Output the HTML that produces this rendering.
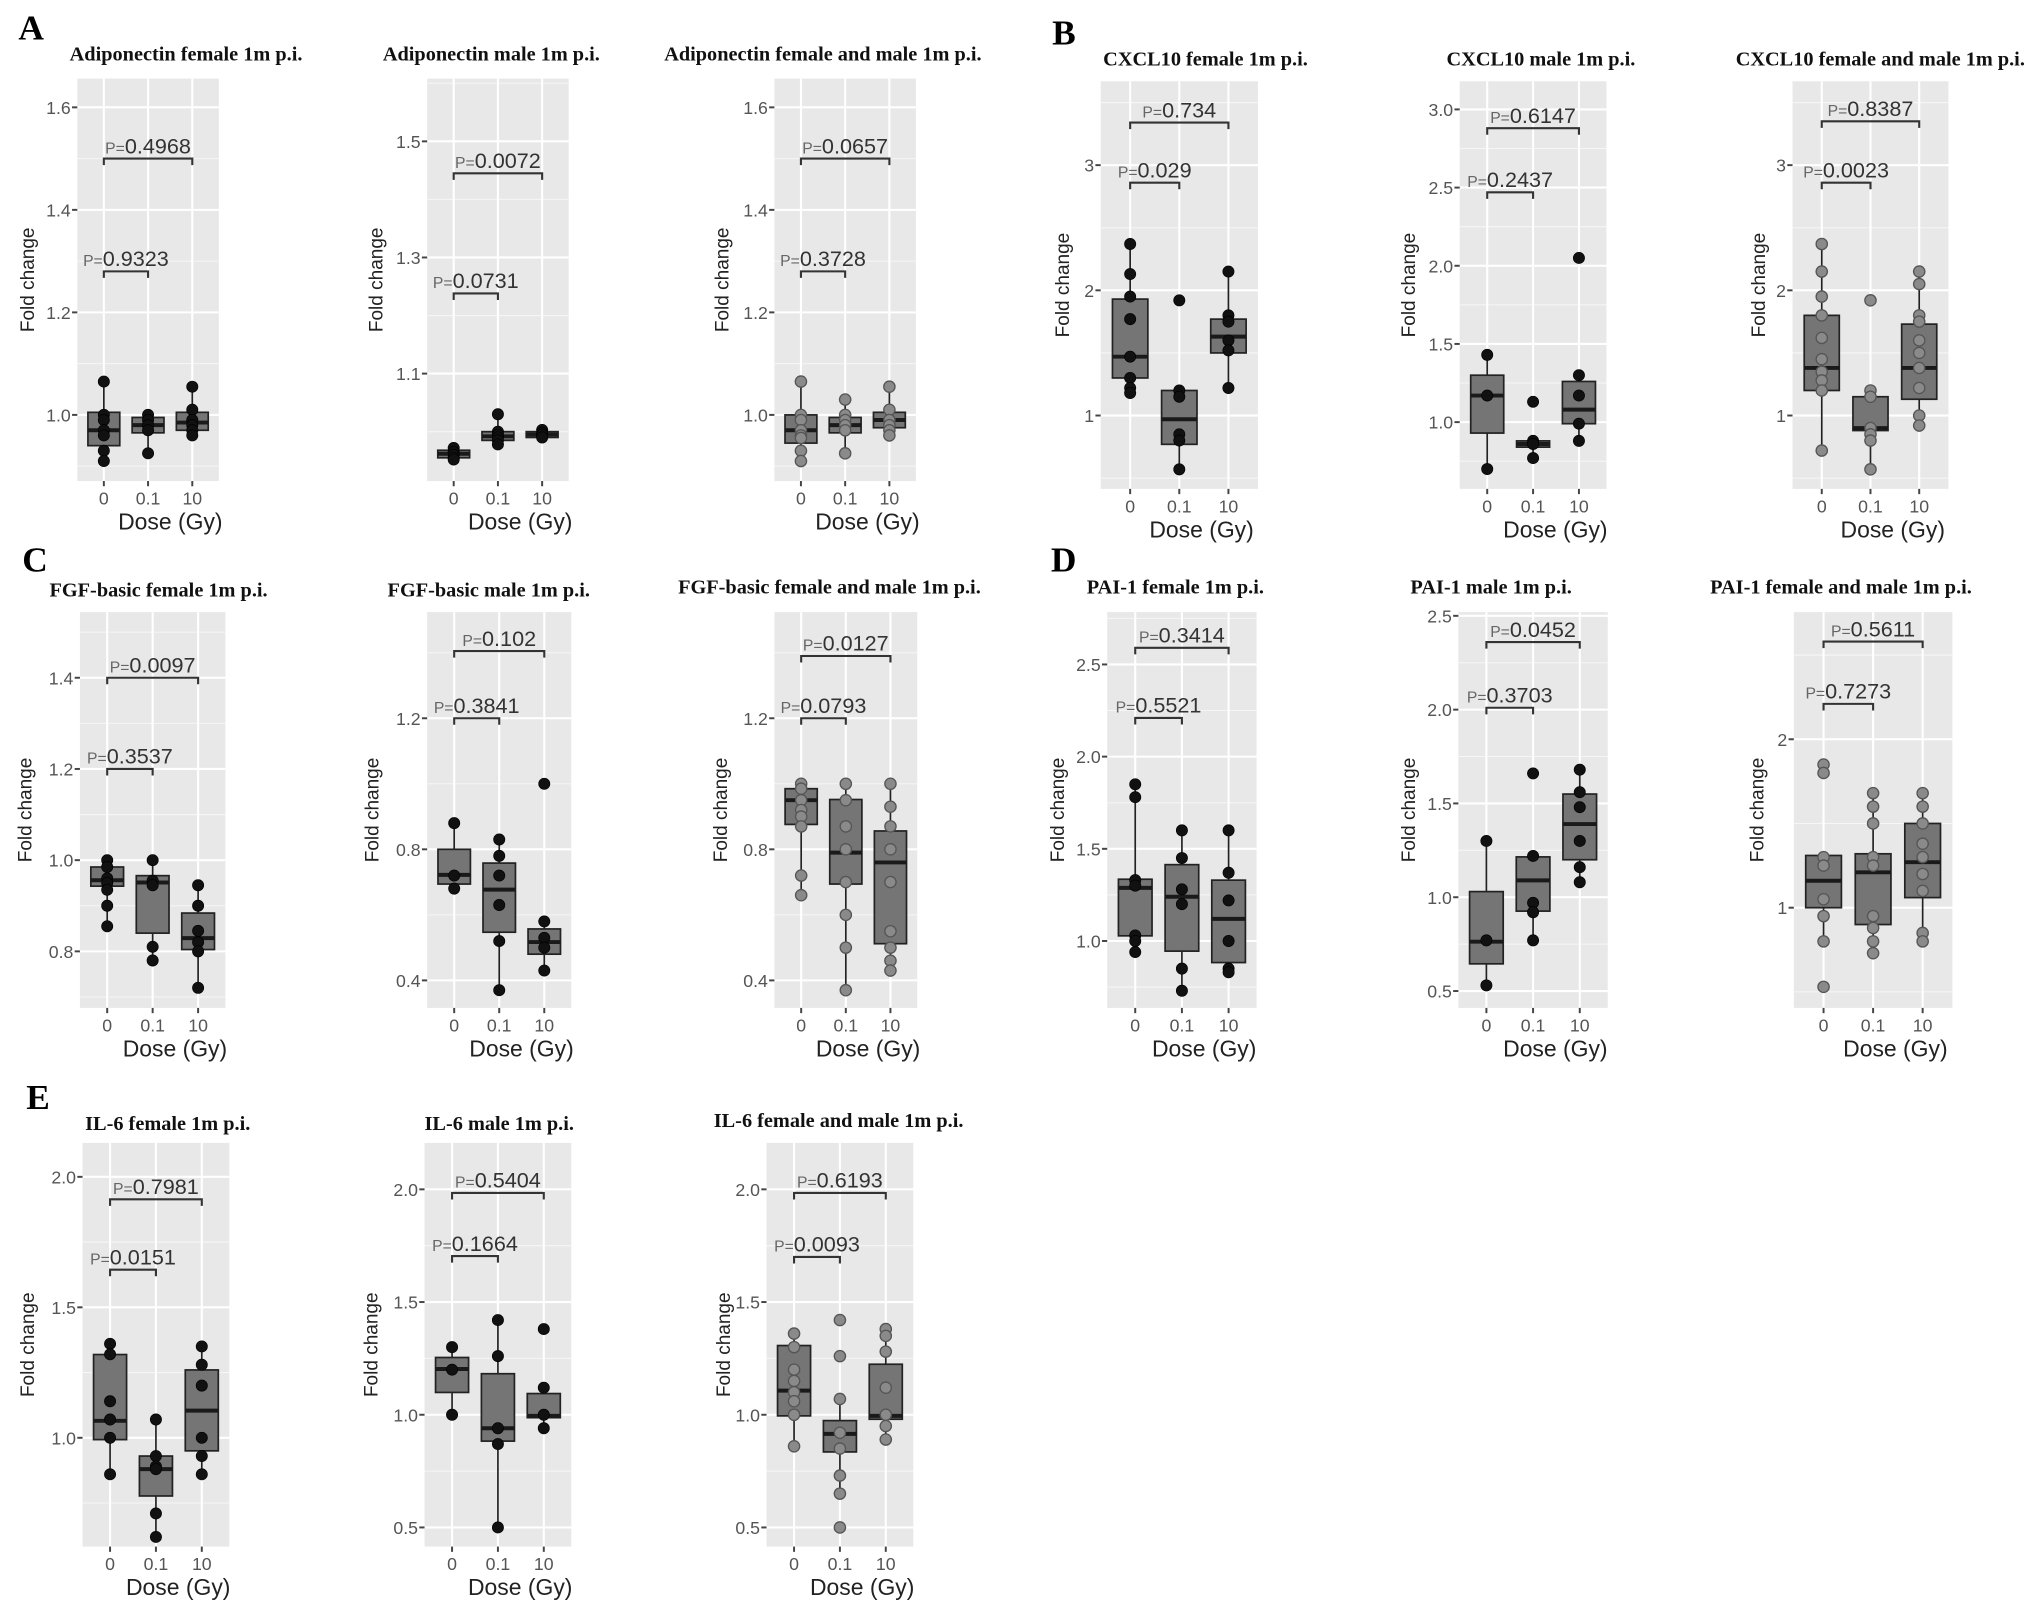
<!DOCTYPE html>
<html><head><meta charset="utf-8"><style>
html,body{margin:0;padding:0;background:#fff;}
svg{display:block;}
.ttl{font-family:"Liberation Serif",serif;font-weight:bold;font-size:15.5px;fill:#111;}
.tk{font-family:"Liberation Sans",sans-serif;font-size:13.5px;fill:#555;}
.yl{font-family:"Liberation Sans",sans-serif;font-size:14.5px;fill:#222;}
.xl{font-family:"Liberation Sans",sans-serif;font-size:17.5px;fill:#222;}
.pv{font-family:"Liberation Sans",sans-serif;font-size:16.5px;fill:#333;}
.let{font-family:"Liberation Serif",serif;font-weight:bold;font-size:27px;fill:#000;}
</style></head><body>
<svg id="fig" width="2031" height="1620" viewBox="0 0 1550 1236" preserveAspectRatio="none" xmlns="http://www.w3.org/2000/svg">
<text class="let" x="14" y="30">A</text>
<text class="let" x="803" y="34">B</text>
<text class="let" x="17" y="436">C</text>
<text class="let" x="802" y="436">D</text>
<text class="let" x="20" y="846">E</text>
</svg>
<script>
const categories = ['0','0.1','10'];
// boxes: [whiskerLow, q1, median, q3, whiskerHigh]
const a1Boxes = [[0.91,0.94,0.97,1.005,1.065],[0.925,0.965,0.98,0.995,1.0],[0.96,0.97,0.985,1.005,1.055]];
const a1Points = [[1.065,1.0,0.99,0.97,0.96,0.93,0.91],[1.0,0.99,0.98,0.97,0.925],[1.055,1.01,0.99,0.98,0.97,0.96]];
const a1Ticks = [1.0,1.2,1.4,1.6];
const a1P = [['0.9323',1.28,0,1],['0.4968',1.5,0,2]];

const a2Boxes = [[0.952,0.955,0.962,0.968,0.972],[0.975,0.985,0.992,1.0,1.03],[0.988,0.99,0.995,1.0,1.003]];
const a2Points = [[0.972,0.965,0.96,0.955,0.952],[1.03,1.0,0.995,0.99,0.985,0.978],[1.003,0.998,0.995,0.99]];
const a2Ticks = [1.1,1.3,1.5];
const a2P = [['0.0731',1.238,0,1],['0.0072',1.445,0,2]];

const a3Boxes = [[0.91,0.945,0.97,1.0,1.065],[0.925,0.965,0.98,0.995,1.03],[0.96,0.975,0.99,1.005,1.055]];
const a3Points = [[1.065,1.0,0.99,0.97,0.96,0.955,0.93,0.91],[1.03,1.0,0.99,0.98,0.97,0.925],[1.055,1.01,0.99,0.98,0.97,0.96]];
const a3Ticks = [1.0,1.2,1.4,1.6];
const a3P = [['0.3728',1.28,0,1],['0.0657',1.5,0,2]];

const b1Boxes = [[1.18,1.3,1.47,1.93,2.37],[0.57,0.77,0.97,1.2,1.2],[1.22,1.5,1.63,1.77,2.15]];
const b1Points = [[2.37,2.13,1.95,1.77,1.47,1.3,1.22,1.18],[1.92,1.2,1.15,0.85,0.8,0.57],[2.15,1.8,1.75,1.6,1.52,1.22]];
const b1Ticks = [1,2,3];
const b1P = [['0.029',2.86,0,1],['0.734',3.34,0,2]];

const b2Boxes = [[0.7,0.93,1.17,1.3,1.43],[0.77,0.84,0.86,0.88,0.9],[0.88,0.99,1.08,1.26,1.3]];
const b2Points = [[1.43,1.17,0.7],[1.13,0.88,0.86,0.77],[2.05,1.3,1.17,0.99,0.88]];
const b2Ticks = [1.0,1.5,2.0,2.5,3.0];
const b2P = [['0.2437',2.47,0,1],['0.6147',2.88,0,2]];

const b3Boxes = [[0.72,1.2,1.38,1.8,2.37],[0.57,0.88,0.9,1.15,1.2],[0.92,1.13,1.38,1.73,2.15]];
const b3Points = [[2.37,2.15,1.95,1.8,1.62,1.45,1.35,1.28,1.2,0.72],[1.92,1.2,1.15,0.9,0.85,0.8,0.57],[2.15,2.05,1.8,1.75,1.6,1.5,1.38,1.22,1.0,0.92]];
const b3Ticks = [1,2,3];
const b3P = [['0.0023',2.86,0,1],['0.8387',3.35,0,2]];

const c1Boxes = [[0.855,0.943,0.956,0.985,1.0],[0.78,0.84,0.951,0.966,1.0],[0.72,0.804,0.829,0.884,0.945]];
const c1Points = [[1.0,0.985,0.96,0.95,0.935,0.9,0.855],[1.0,0.955,0.945,0.81,0.78],[0.945,0.9,0.845,0.82,0.8,0.72]];
const c1Ticks = [0.8,1.0,1.2,1.4];
const c1P = [['0.3537',1.2,0,1],['0.0097',1.4,0,2]];

const c2Boxes = [[0.68,0.694,0.722,0.8,0.88],[0.37,0.547,0.677,0.758,0.83],[0.43,0.48,0.517,0.557,0.58]];
const c2Points = [[0.88,0.72,0.68],[0.83,0.78,0.72,0.63,0.52,0.37],[1.0,0.58,0.53,0.5,0.43]];
const c2Ticks = [0.4,0.8,1.2];
const c2P = [['0.3841',1.2,0,1],['0.102',1.405,0,2]];

const c3Boxes = [[0.66,0.876,0.95,0.985,1.0],[0.37,0.694,0.79,0.952,1.0],[0.43,0.512,0.76,0.856,1.0]];
const c3Points = [[1.0,0.985,0.95,0.92,0.9,0.87,0.72,0.66],[1.0,0.95,0.87,0.8,0.7,0.6,0.5,0.37],[1.0,0.93,0.87,0.8,0.7,0.55,0.5,0.46,0.43]];
const c3Ticks = [0.4,0.8,1.2];
const c3P = [['0.0793',1.2,0,1],['0.0127',1.39,0,2]];

const d1Boxes = [[0.94,1.028,1.288,1.335,1.85],[0.73,0.945,1.24,1.414,1.6],[0.83,0.883,1.12,1.33,1.6]];
const d1Points = [[1.85,1.78,1.33,1.3,1.03,1.0,0.94],[1.6,1.45,1.28,1.2,0.85,0.73],[1.6,1.37,1.22,1.0,0.85,0.83]];
const d1Ticks = [1.0,1.5,2.0,2.5];
const d1P = [['0.5521',2.21,0,1],['0.3414',2.59,0,2]];

const d2Boxes = [[0.53,0.645,0.763,1.03,1.3],[0.77,0.926,1.09,1.215,1.22],[1.08,1.2,1.39,1.55,1.68]];
const d2Points = [[1.3,0.77,0.53],[1.66,1.22,0.97,0.92,0.77],[1.68,1.56,1.48,1.3,1.16,1.08]];
const d2Ticks = [0.5,1.0,1.5,2.0,2.5];
const d2P = [['0.3703',2.01,0,1],['0.0452',2.36,0,2]];

const d3Boxes = [[0.8,1.0,1.16,1.31,1.31],[0.73,0.9,1.21,1.32,1.68],[0.8,1.06,1.27,1.5,1.68]];
const d3Points = [[1.85,1.8,1.3,1.25,1.05,0.95,0.8,0.53],[1.68,1.6,1.5,1.3,1.25,0.95,0.88,0.8,0.73],[1.68,1.6,1.5,1.38,1.3,1.2,1.1,0.85,0.8]];
const d3Ticks = [1,2];
const d3P = [['0.7273',2.21,0,1],['0.5611',2.58,0,2]];

const e1Boxes = [[0.86,0.993,1.065,1.319,1.36],[0.62,0.777,0.88,0.93,1.07],[0.86,0.95,1.104,1.26,1.35]];
const e1Points = [[1.36,1.32,1.14,1.07,1.0,0.86],[1.07,0.93,0.89,0.88,0.71,0.62],[1.35,1.28,1.2,1.0,0.93,0.86]];
const e1Ticks = [1.0,1.5,2.0];
const e1P = [['0.0151',1.644,0,1],['0.7981',1.914,0,2]];

const e2Boxes = [[1.0,1.099,1.203,1.254,1.3],[0.5,0.883,0.94,1.182,1.42],[0.94,0.987,0.995,1.094,1.12]];
const e2Points = [[1.3,1.2,1.0],[1.42,1.26,0.94,0.87,0.5],[1.38,1.12,1.0,0.94]];
const e2Ticks = [0.5,1.0,1.5,2.0];
const e2P = [['0.1664',1.704,0,1],['0.5404',1.984,0,2]];

const e3Boxes = [[0.86,0.995,1.107,1.307,1.36],[0.65,0.835,0.915,0.974,1.07],[0.89,0.98,0.995,1.224,1.38]];
const e3Points = [[1.36,1.3,1.2,1.15,1.1,1.06,1.0,0.86],[1.42,1.26,1.07,0.92,0.85,0.73,0.65,0.5],[1.38,1.35,1.28,1.12,1.0,0.95,0.89]];
const e3Ticks = [0.5,1.0,1.5,2.0];
const e3P = [['0.0093',1.7,0,1],['0.6193',1.984,0,2]];

const NS='http://www.w3.org/2000/svg';
const svg=document.getElementById('fig');
function el(tag,attrs,parent,txt){const e=document.createElementNS(NS,tag);for(const k in attrs)e.setAttribute(k,attrs[k]);if(txt!==undefined)e.textContent=txt;(parent||svg).appendChild(e);return e;}

const panels=[
 {key:'a1',title:'Adiponectin female 1m p.i.',tx:142,ty:46,bg:[59,60,167,367],dom:[0.871,1.656],dec:1,ylx:22,boxes:a1Boxes,pts:a1Points,ticks:a1Ticks,pv:a1P,grey:false},
 {key:'a2',title:'Adiponectin male 1m p.i.',tx:375,ty:46,bg:[326,60,434,367],dom:[0.915,1.608],dec:1,ylx:288,boxes:a2Boxes,pts:a2Points,ticks:a2Ticks,pv:a2P,grey:false},
 {key:'a3',title:'Adiponectin female and male 1m p.i.',tx:628,ty:46,bg:[591,60,699,367],dom:[0.871,1.656],dec:1,ylx:552,boxes:a3Boxes,pts:a3Points,ticks:a3Ticks,pv:a3P,grey:true},
 {key:'b1',title:'CXCL10  female 1m p.i.',tx:920,ty:50,bg:[840,62,960,373],dom:[0.414,3.67],dec:0,ylx:812,boxes:b1Boxes,pts:b1Points,ticks:b1Ticks,pv:b1P,grey:false},
 {key:'b2',title:'CXCL10  male 1m p.i.',tx:1176,ty:50,bg:[1114,62,1226,373],dom:[0.573,3.18],dec:1,ylx:1076,boxes:b2Boxes,pts:b2Points,ticks:b2Ticks,pv:b2P,grey:false},
 {key:'b3',title:'CXCL10  female and male 1m p.i.',tx:1435,ty:50,bg:[1368,62,1487,373],dom:[0.414,3.67],dec:0,ylx:1343,boxes:b3Boxes,pts:b3Points,ticks:b3Ticks,pv:b3P,grey:true},
 {key:'c1',title:'FGF-basic female 1m p.i.',tx:121,ty:455,bg:[61,467,172,769],dom:[0.676,1.544],dec:1,ylx:20,boxes:c1Boxes,pts:c1Points,ticks:c1Ticks,pv:c1P,grey:false},
 {key:'c2',title:'FGF-basic male 1m p.i.',tx:373,ty:455,bg:[326,467,436,769],dom:[0.316,1.524],dec:1,ylx:285,boxes:c2Boxes,pts:c2Points,ticks:c2Ticks,pv:c2P,grey:false},
 {key:'c3',title:'FGF-basic female and male 1m p.i.',tx:633,ty:453,bg:[591,467,700,769],dom:[0.316,1.524],dec:1,ylx:551,boxes:c3Boxes,pts:c3Points,ticks:c3Ticks,pv:c3P,grey:true},
 {key:'d1',title:'PAI-1 female 1m p.i.',tx:897,ty:453,bg:[845,467,959,769],dom:[0.637,2.784],dec:1,ylx:808,boxes:d1Boxes,pts:d1Points,ticks:d1Ticks,pv:d1P,grey:false},
 {key:'d2',title:'PAI-1 male 1m p.i.',tx:1138,ty:453,bg:[1113,467,1227,769],dom:[0.41,2.52],dec:1,ylx:1076,boxes:d2Boxes,pts:d2Points,ticks:d2Ticks,pv:d2P,grey:false},
 {key:'d3',title:'PAI-1 female and male 1m p.i.',tx:1405,ty:453,bg:[1369,467,1490,769],dom:[0.405,2.755],dec:0,ylx:1342,boxes:d3Boxes,pts:d3Points,ticks:d3Ticks,pv:d3P,grey:true},
 {key:'e1',title:'IL-6 female 1m p.i.',tx:128,ty:862,bg:[63,872,175,1180],dom:[0.583,2.13],dec:1,ylx:22,boxes:e1Boxes,pts:e1Points,ticks:e1Ticks,pv:e1P,grey:false},
 {key:'e2',title:'IL-6 male 1m p.i.',tx:381,ty:862,bg:[324,872,436,1180],dom:[0.415,2.206],dec:1,ylx:284,boxes:e2Boxes,pts:e2Points,ticks:e2Ticks,pv:e2P,grey:false},
 {key:'e3',title:'IL-6 female and male 1m p.i.',tx:640,ty:860,bg:[585,872,697,1180],dom:[0.415,2.206],dec:1,ylx:553,boxes:e3Boxes,pts:e3Points,ticks:e3Ticks,pv:e3P,grey:true}
];

panels.forEach(p=>{
 const [x0,y0,x1,y1]=p.bg;
 const g=el('g',{});
 
 
 const yS=v=>y1-(v-p.dom[0])/(p.dom[1]-p.dom[0])*(y1-y0);
 const step=(x1-x0)/3.2;
 const xS=i=>x0+(i+0.6)*step;
 const t=el('text',{class:'ttl',x:p.tx,y:p.ty,'text-anchor':'middle'},g,p.title);
 
 
 const bg=el('rect',{x:x0,y:y0,width:x1-x0,height:y1-y0,fill:'#e8e8e8'},g);
 
 
 const ts=p.ticks, d=ts.length>1?ts[1]-ts[0]:0.5;
 for(let v=ts[0]-d/2; v<=ts[ts.length-1]+d; v+=d){
   if(v>p.dom[0]&&v<p.dom[1]){const ln=el('line',{x1:x0,x2:x1,y1:yS(v),y2:yS(v),stroke:'#f6f6f6','stroke-width':0.8},g);
   
   }
 }
 ts.forEach(v=>{
   const ln=el('line',{x1:x0,x2:x1,y1:yS(v),y2:yS(v),stroke:'#fff','stroke-width':1.6},g);
   
   
   el('line',{x1:x0-4,x2:x0,y1:yS(v),y2:yS(v),stroke:'#444','stroke-width':1.5},g);
   const tl=el('text',{class:'tk',x:x0-5,y:yS(v)+5,'text-anchor':'end'},g,v.toFixed(p.dec));
   
   
 });
 categories.forEach((c,i)=>{
   const ln=el('line',{x1:xS(i),x2:xS(i),y1:y0,y2:y1,stroke:'#fff','stroke-width':1.6},g);
   
   
   el('line',{x1:xS(i),x2:xS(i),y1:y1,y2:y1+4,stroke:'#444','stroke-width':1.5},g);
   const tl=el('text',{class:'tk',x:xS(i),y:y1+18,'text-anchor':'middle'},g,c);
   
   
 });
 const yl=el('text',{class:'yl',x:0,y:0,'text-anchor':'middle',transform:`translate(${p.ylx+4},${(y0+y1)/2}) rotate(-90)`},g,'Fold change');
 
 
 const xl=el('text',{class:'xl',x:(x0+x1)/2+17,y:y1+37,'text-anchor':'middle'},g,'Dose (Gy)');
 
 
 const bw=step*0.72;
 p.boxes.forEach((b,i)=>{
   const [lo,q1,md,q3,hi]=b, cx=xS(i);
   const bg2=el('g',{},g);
   
   
   el('line',{x1:cx,x2:cx,y1:yS(hi),y2:yS(lo),stroke:'#222','stroke-width':1.3},bg2);
   el('rect',{x:cx-bw/2,y:yS(q3),width:bw,height:Math.max(1,yS(q1)-yS(q3)),fill:'#757575',stroke:'#222','stroke-width':1.3},bg2);
   el('line',{x1:cx-bw/2,x2:cx+bw/2,y1:yS(md),y2:yS(md),stroke:'#1a1a1a','stroke-width':3},bg2);
 });
 p.pts.forEach((arr,i)=>{
   arr.forEach(v=>{
     const c=el('circle',{cx:xS(i),cy:yS(v),r:4.3,fill:p.grey?'#8a8a8a':'#111',stroke:p.grey?'#555':'#000','stroke-width':p.grey?1:0.5},g);
     
     
   });
 });
 p.pv.forEach(q=>{
   const [lab,v,a,b]=q, xa=xS(a), xb=xS(b), y=yS(v);
   const br=el('path',{d:`M${xa},${y+5}L${xa},${y}L${xb},${y}L${xb},${y+5}`,fill:'none',stroke:'#333','stroke-width':1.6},g);
   
   
   const tx=el('text',{class:'pv',x:(xa+xb)/2,y:y-4,'text-anchor':'middle'},g);
   
   
   el('tspan',{'font-size':'12','fill':'#666'},tx,'P=');
   el('tspan',{},tx,lab);
 });
});
</script>
</body></html>
